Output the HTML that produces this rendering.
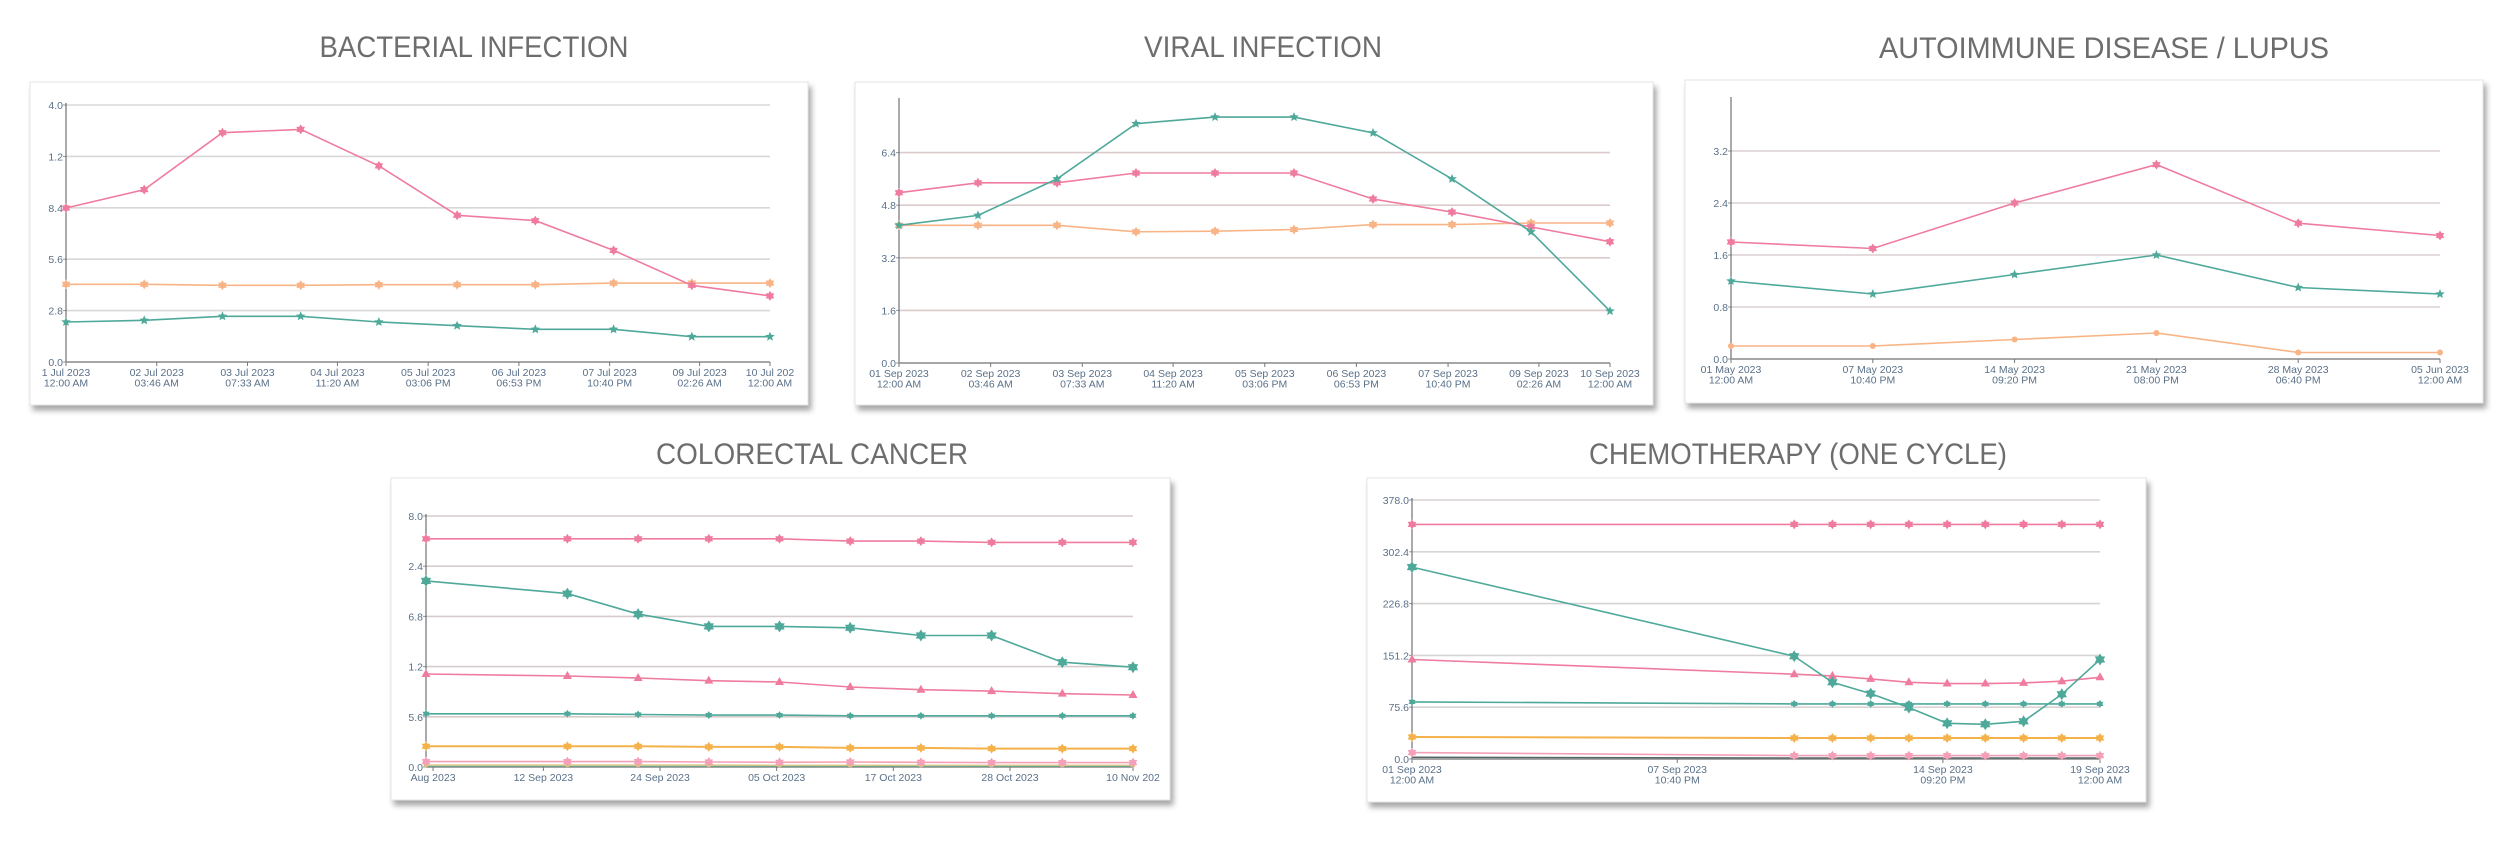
<!DOCTYPE html>
<html><head><meta charset="utf-8">
<style>
html,body{margin:0;padding:0;background:#fff;}
svg{display:block;font-family:"Liberation Sans",sans-serif;}
</style></head>
<body>
<svg id="root" width="2500" height="864" viewBox="0 0 2500 864" xmlns="http://www.w3.org/2000/svg">
<defs>
<filter id="sh" x="-5%" y="-5%" width="112%" height="115%"><feDropShadow dx="3" dy="5" stdDeviation="3" flood-color="#000" flood-opacity="0.35"/></filter>
</defs>
</svg>
<script>
// ---------- Chart 1: Bacterial infection ----------
const bactX = [0,1,2,3,4,5,6,7,8,9];
const bactPink = [8.39,9.39,12.49,12.67,10.68,7.99,7.70,6.08,4.18,3.60];
const bactOrange = [4.23,4.23,4.18,4.18,4.21,4.21,4.21,4.30,4.30,4.30];
const bactTeal = [2.18,2.27,2.49,2.49,2.18,1.98,1.78,1.78,1.38,1.38];
const bactYTicks = [0,2.8,5.6,8.4,11.2,14];
const bactYLabels = ["0.0","2.8","5.6","8.4","1.2","4.0"];
const bactXTicks = [0,1.16,2.32,3.47,4.63,5.79,6.95,8.1,9];
const bactXLabels = [["1 Jul 2023","12:00 AM"],["02 Jul 2023","03:46 AM"],["03 Jul 2023","07:33 AM"],["04 Jul 2023","11:20 AM"],["05 Jul 2023","03:06 PM"],["06 Jul 2023","06:53 PM"],["07 Jul 2023","10:40 PM"],["09 Jul 2023","02:26 AM"],["10 Jul 202","12:00 AM"]];

// ---------- Chart 2: Viral infection ----------
const viralX = [0,1,2,3,4,5,6,7,8,9];
const viralTeal = [4.19,4.49,5.60,7.28,7.48,7.48,7.00,5.60,3.99,1.58];
const viralPink = [5.18,5.48,5.48,5.78,5.78,5.78,4.99,4.59,4.14,3.69];
const viralOrange = [4.19,4.19,4.19,3.99,4.01,4.06,4.21,4.21,4.26,4.26];
const viralYTicks = [0,1.6,3.2,4.8,6.4];
const viralYLabels = ["0.0","1.6","3.2","4.8","6.4"];
const viralXTicks = [0,1.16,2.32,3.47,4.63,5.79,6.95,8.1,9];
const viralXLabels = [["01 Sep 2023","12:00 AM"],["02 Sep 2023","03:46 AM"],["03 Sep 2023","07:33 AM"],["04 Sep 2023","11:20 AM"],["05 Sep 2023","03:06 PM"],["06 Sep 2023","06:53 PM"],["07 Sep 2023","10:40 PM"],["09 Sep 2023","02:26 AM"],["10 Sep 2023","12:00 AM"]];

// ---------- Chart 3: Autoimmune ----------
const autoX = [0,1,2,3,4,5];
const autoPink = [1.80,1.70,2.40,2.99,2.09,1.90];
const autoTeal = [1.20,1.00,1.30,1.60,1.10,1.00];
const autoOrange = [0.20,0.20,0.30,0.40,0.10,0.10];
const autoYTicks = [0,0.8,1.6,2.4,3.2];
const autoYLabels = ["0.0","0.8","1.6","2.4","3.2"];
const autoXTicks = [0,1,2,3,4,5];
const autoXLabels = [["01 May 2023","12:00 AM"],["07 May 2023","10:40 PM"],["14 May 2023","09:20 PM"],["21 May 2023","08:00 PM"],["28 May 2023","06:40 PM"],["05 Jun 2023","12:00 AM"]];

// ---------- Chart 4: Colorectal cancer ----------
const colX = [0,2,3,4,5,6,7,8,9,10];
const colPinkStar = [25.46,25.46,25.46,25.46,25.46,25.2,25.2,25.05,25.05,25.05];
const colTealBig = [20.76,19.34,17.06,15.68,15.68,15.53,14.67,14.67,11.69,11.13];
const colPinkTri = [10.38,10.15,9.93,9.63,9.48,8.92,8.62,8.47,8.18,8.03];
const colTealSmall = [5.94,5.94,5.86,5.79,5.79,5.71,5.71,5.71,5.71,5.71];
const colOrange = [2.31,2.31,2.31,2.24,2.24,2.13,2.13,2.05,2.05,2.05];
const colPinkLow = [0.60,0.60,0.60,0.56,0.52,0.56,0.52,0.49,0.49,0.49];
const colOlive = [0.22,0.22,0.22,0.22,0.2,0.2,0.2,0.2,0.2,0.2];
const colGreen = [0.08,0.08,0.08,0.08,0.08,0.08,0.08,0.08,0.08,0.08];
const colYTicks = [0,5.6,11.2,16.8,22.4,28];
const colYLabels = ["0.0","5.6","1.2","6.8","2.4","8.0"];
const colXTicks = [0.1,1.66,3.31,4.96,6.61,8.26,10];
const colXLabels = [["Aug 2023"],["12 Sep 2023"],["24 Sep 2023"],["05 Oct 2023"],["17 Oct 2023"],["28 Oct 2023"],["10 Nov 202"]];

// ---------- Chart 5: Chemotherapy ----------
const chemoX = [0,10,11,12,13,14,15,16,17,18];
const chemoPinkStar = [342.4,342.4,342.4,342.4,342.4,342.4,342.4,342.4,342.4,342.4];
const chemoTealBig = [280.1,150.0,112.0,95.5,75.0,52.1,50.7,55.0,94.5,145.2];
const chemoPinkTri = [145.2,123.7,121.3,116.9,112.0,110.1,110.1,111.1,113.5,119.3];
const chemoTealSmall = [83.3,80.4,80.4,80.4,80.4,80.4,80.4,80.4,80.4,80.4];
const chemoOrange = [32.1,30.7,30.7,30.7,30.7,30.7,30.7,30.7,30.7,30.7];
const chemoPinkLow = [9.3,4.9,4.9,4.9,4.9,4.9,4.9,4.9,4.9,4.9];
const chemoDark = [2.5,1.5,1.5,1.5,1.5,1.5,1.5,1.5,1.5,1.5];
const chemoYTicks = [0,75.6,151.2,226.8,302.4,378];
const chemoYLabels = ["0.0","75.6","151.2","226.8","302.4","378.0"];
const chemoXTicks = [0,6.94,13.89,18];
const chemoXLabels = [["01 Sep 2023","12:00 AM"],["07 Sep 2023","10:40 PM"],["14 Sep 2023","09:20 PM"],["19 Sep 2023","12:00 AM"]];

const PINK="#ef7c9f", TEAL="#4ea99a", ORANGE="#f8b486";
const NS="http://www.w3.org/2000/svg";
const root=document.getElementById('root');
function mk(tag,attrs,parent){const e=document.createElementNS(NS,tag);for(const k in attrs)e.setAttribute(k,attrs[k]);(parent||root).appendChild(e);return e;}

function marker(g,shape,x,y,r,color){
  let pts=[];
  if(shape==='star'){for(let i=0;i<10;i++){const a=-Math.PI/2+i*Math.PI/5;const rr=i%2?r*0.45:r;pts.push((x+rr*Math.cos(a)).toFixed(1)+','+(y+rr*Math.sin(a)).toFixed(1));}}
  else if(shape==='burst'){for(let i=0;i<12;i++){const a=-Math.PI/2+i*Math.PI/6;const rr=i%2?r*0.6:r;pts.push((x+rr*Math.cos(a)).toFixed(1)+','+(y+rr*Math.sin(a)).toFixed(1));}}
  else if(shape==='tri'){pts=[x+','+(y-r),(x+r*0.9)+','+(y+r*0.6),(x-r*0.9)+','+(y+r*0.6)];}
  let el;
  if(shape==='dot'){el=mk('circle',{cx:x,cy:y,r:r*0.6,fill:color},g);}
  else el=mk('polygon',{points:pts.join(' '),fill:color},g);
  
  
}

function drawChart(c){
  const g=mk('g',{});
  
  
  const t=mk('text',{x:c.tx,y:c.ty,'text-anchor':'middle','font-size':30,fill:'#6d6d6d',textLength:c.tw,lengthAdjust:'spacingAndGlyphs'},g);
  t.textContent=c.title;
  
  
  const card=mk('rect',{x:c.cx,y:c.cy,width:c.cw,height:c.ch,fill:'#fff',stroke:'#e4e4e4','stroke-width':1,filter:'url(#sh)'},g);
  
  
  const X=v=>c.ax0+(v-c.xmin)/(c.xmax-c.xmin)*(c.ax1-c.ax0);
  const Y=v=>c.ay1-(v-c.ymin)/(c.ymax-c.ymin)*(c.ay1-c.ay0);
  c.yTicks.forEach((v,i)=>{
    const y=Y(v);
    if(v>c.ymin){const gl=mk('line',{x1:c.ax0,x2:c.ax1,y1:y,y2:y,stroke:c.grid,'stroke-width':1.6},g);
      }
    mk('line',{x1:c.ax0-3,x2:c.ax0,y1:y,y2:y,stroke:'#8a9aaa','stroke-width':1},g);
    const tl=mk('text',{x:c.ax0-3,y:y+4,'text-anchor':'end','font-size':10.5,fill:'#5a7088'},g);
    tl.textContent=c.yLabels[i];
    
  });
  const ya=mk('line',{x1:c.ax0,x2:c.ax0,y1:c.ay0-2,y2:c.ay1,stroke:'#555','stroke-width':1},g);
  
  const xa=mk('line',{x1:c.ax0,x2:c.ax1,y1:c.ay1,y2:c.ay1,stroke:'#999','stroke-width':1.8},g);
  
  c.xTicks.forEach((v,i)=>{
    const x=X(v);
    mk('line',{x1:x,x2:x,y1:c.ay1,y2:c.ay1+4,stroke:'#777','stroke-width':1},g);
    c.xLabels[i].forEach((s,j)=>{
      const tl=mk('text',{x:x,y:c.ay1+14+j*10.5,'text-anchor':'middle','font-size':10.5,fill:'#5a7088'},g);
      tl.textContent=s;
      
    });
  });
  c.series.forEach(s=>{
    const d=s.v.map((v,i)=>(i?'L':'M')+X(c.xs[i]).toFixed(1)+','+Y(v).toFixed(1)).join(' ');
    const p=mk('path',{d:d,fill:'none',stroke:s.c,'stroke-width':s.w||1.6},g);
    
    
    if(s.m) s.v.forEach((v,i)=>marker(g,s.m,X(c.xs[i]),Y(v),s.r||5,s.c));
  });
}

drawChart({name:'bacterial-infection-chart',title:'BACTERIAL INFECTION',tx:474,ty:57,tw:309,
  cx:30,cy:82,cw:778,ch:323,ax0:66,ax1:770,ay0:105,ay1:362,xmin:0,xmax:9,ymin:0,ymax:14,grid:'#d8d8d8',
  xs:bactX,yTicks:bactYTicks,yLabels:bactYLabels,xTicks:bactXTicks,xLabels:bactXLabels,
  series:[{n:'series-orange',v:bactOrange,c:ORANGE,m:'burst'},{n:'series-pink',v:bactPink,c:PINK,m:'burst'},{n:'series-teal',v:bactTeal,c:TEAL,m:'star'}]});

drawChart({name:'viral-infection-chart',title:'VIRAL INFECTION',tx:1263,ty:57,tw:238,
  cx:855,cy:82,cw:798,ch:323,ax0:899,ax1:1610,ay0:100,ay1:363,xmin:0,xmax:9,ymin:0,ymax:8,grid:'#dcc9c9',
  xs:viralX,yTicks:viralYTicks,yLabels:viralYLabels,xTicks:viralXTicks,xLabels:viralXLabels,
  series:[{n:'series-orange',v:viralOrange,c:ORANGE,m:'burst'},{n:'series-pink',v:viralPink,c:PINK,m:'burst'},{n:'series-teal',v:viralTeal,c:TEAL,m:'star'}]});

drawChart({name:'autoimmune-lupus-chart',title:'AUTOIMMUNE DISEASE / LUPUS',tx:2104,ty:58,tw:450,
  cx:1685,cy:80,cw:798,ch:323,ax0:1731,ax1:2440,ay0:99,ay1:359,xmin:0,xmax:5,ymin:0,ymax:4,grid:'#dcd0d0',
  xs:autoX,yTicks:autoYTicks,yLabels:autoYLabels,xTicks:autoXTicks,xLabels:autoXLabels,
  series:[{n:'series-orange',v:autoOrange,c:ORANGE,m:'dot'},{n:'series-pink',v:autoPink,c:PINK,m:'burst'},{n:'series-teal',v:autoTeal,c:TEAL,m:'star'}]});

drawChart({name:'colorectal-cancer-chart',title:'COLORECTAL CANCER',tx:812,ty:464,tw:312,
  cx:391,cy:478,cw:779,ch:322,ax0:426,ax1:1133,ay0:516,ay1:767,xmin:0,xmax:10,ymin:0,ymax:28,grid:'#d6cccc',
  xs:colX,yTicks:colYTicks,yLabels:colYLabels,xTicks:colXTicks,xLabels:colXLabels,
  series:[{n:'series-green-low',v:colGreen,c:'#6aa58a',w:1.2},{n:'series-olive-low',v:colOlive,c:'#d9c27a',w:1.2,m:'dot',r:4},
    {n:'series-pink-low',v:colPinkLow,c:'#f4a0b8',m:'burst'},{n:'series-orange',v:colOrange,c:'#f5b24a',w:2,m:'burst'},
    {n:'series-teal-small',v:colTealSmall,c:TEAL,m:'burst',r:4},{n:'series-pink-triangle',v:colPinkTri,c:PINK,m:'tri'},
    {n:'series-teal-big',v:colTealBig,c:TEAL,m:'burst',r:6},{n:'series-pink-star',v:colPinkStar,c:PINK,m:'burst'}]});

drawChart({name:'chemotherapy-chart',title:'CHEMOTHERAPY (ONE CYCLE)',tx:1798,ty:464,tw:418,
  cx:1367,cy:478,cw:779,ch:324,ax0:1412,ax1:2100,ay0:500,ay1:759,xmin:0,xmax:18,ymin:0,ymax:378,grid:'#d8d4d4',
  xs:chemoX,yTicks:chemoYTicks,yLabels:chemoYLabels,xTicks:chemoXTicks,xLabels:chemoXLabels,
  series:[{n:'series-dark-low',v:chemoDark,c:'#556666',w:1.5},{n:'series-pink-low',v:chemoPinkLow,c:'#f4a0b8',m:'burst'},
    {n:'series-orange',v:chemoOrange,c:'#f5b24a',w:2,m:'burst'},{n:'series-teal-small',v:chemoTealSmall,c:TEAL,m:'burst',r:4},
    {n:'series-pink-triangle',v:chemoPinkTri,c:PINK,m:'tri'},{n:'series-teal-big',v:chemoTealBig,c:TEAL,m:'burst',r:6},
    {n:'series-pink-star',v:chemoPinkStar,c:PINK,m:'burst'}]});
</script>
</body></html>
